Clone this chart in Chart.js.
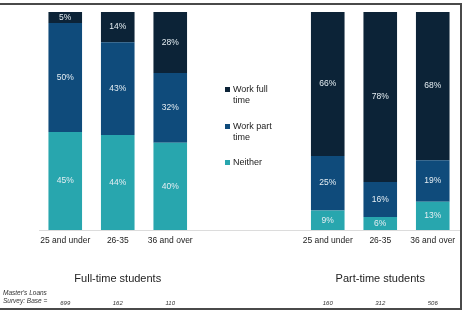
<!DOCTYPE html>
<html>
<head>
<meta charset="utf-8">
<script src="https://cdn.jsdelivr.net/npm/chart.js@4/dist/chart.umd.min.js"></script>
<style>
    body { margin: 0; background: #fff; font-family: "Liberation Sans", Arial, sans-serif; }
    #wrap { position: relative; width: 467px; height: 311px; }
    #chart { position: absolute; left: 0; top: 0; }
    .frame-top { position: absolute; left: 0; top: 3px; width: 462px; height: 2px; background: #4a4a4a; }
    .frame-right { position: absolute; left: 460px; top: 3px; width: 2px; height: 307px; background: #4a4a4a; }
    .frame-bottom { position: absolute; left: 0; top: 308px; width: 462px; height: 2px; background: #4a4a4a; }
    .legend { position: absolute; left: 225px; font-size: 9px; line-height: 11px; color: #222; }
    .legend span.sw { position: absolute; left: 0; top: 3px; width: 5px; height: 5px; }
    .legend div.txt { margin-left: 8px; }
    .base-caption { position: absolute; left: 3px; top: 289px; font-size: 6.5px; line-height: 8px; font-style: italic; color: #333; }
</style>
</head>
<body>
<div id="wrap">
    <canvas id="chart" width="467" height="311"></canvas>
    <div class="frame-top"></div>
    <div class="frame-right"></div>
    <div class="frame-bottom"></div>
    <div id="legend"></div>
    <div class="base-caption">Master's Loans<br>Survey: Base =</div>
</div>
<script>
const categories = ["25 and under", "26-35", "36 and over", "", "", "25 and under", "26-35", "36 and over"];
const neither = [45, 44, 40, null, null, 9, 6, 13];
const workPart = [50, 43, 32, null, null, 25, 16, 19];
const workFull = [5, 14, 28, null, null, 66, 78, 68];
const baseSizes = ["699", "162", "110", "", "", "160", "312", "506"];
const groupTitles = [
    { label: "Full-time students", index: 1 },
    { label: "Part-time students", index: 6 }
];

const colors = {
    full: "#0c2337",
    part: "#0f4b7b",
    neither: "#28a6ae"
};

// shares are drawn scaled to 100% (26-35 full-time adds up to 101)
const totals = categories.map((c, i) => (neither[i] || 0) + (workPart[i] || 0) + (workFull[i] || 0));
function share(values) {
    return values.map((v, i) => v == null ? null : v / totals[i] * 100);
}

const series = [
    { label: "Neither", raw: neither, color: colors.neither },
    { label: "Work part time", raw: workPart, color: colors.part },
    { label: "Work full time", raw: workFull, color: colors.full }
];

const valueLabels = {
    id: "valueLabels",
    afterDatasetsDraw(chart) {
        const ctx = chart.ctx;
        ctx.save();
        ctx.font = "8.5px 'Liberation Sans', Arial, sans-serif";
        ctx.fillStyle = "#e4edf2";
        ctx.textAlign = "center";
        ctx.textBaseline = "middle";
        chart.data.datasets.forEach((ds, d) => {
            chart.getDatasetMeta(d).data.forEach((bar, i) => {
                const v = ds.raw[i];
                if (v == null) return;
                ctx.fillText(v + "%", bar.x, (bar.y + bar.base) / 2);
            });
        });
        ctx.restore();
    }
};

const groupText = {
    id: "groupText",
    afterDraw(chart) {
        const ctx = chart.ctx;
        const x = chart.scales.x;
        ctx.save();
        ctx.textAlign = "center";
        ctx.textBaseline = "middle";
        ctx.fillStyle = "#222";
        ctx.font = "11px 'Liberation Sans', Arial, sans-serif";
        groupTitles.forEach(g => {
            ctx.fillText(g.label, x.getPixelForValue(g.index), 279);
        });
        ctx.fillStyle = "#333";
        ctx.font = "italic 6px 'Liberation Sans', Arial, sans-serif";
        baseSizes.forEach((b, i) => {
            if (b) ctx.fillText(b, x.getPixelForValue(i), 303);
        });
        ctx.restore();
    }
};

new Chart(document.getElementById("chart"), {
    type: "bar",
    data: {
        labels: categories,
        datasets: series.map(s => ({
            label: s.label,
            raw: s.raw,
            data: share(s.raw),
            backgroundColor: s.color,
            borderWidth: 0,
            barPercentage: 0.64,
            categoryPercentage: 1
        }))
    },
    options: {
        responsive: false,
        animation: false,
        events: [],
        layout: { padding: { left: 39, right: 8, top: 12, bottom: 61 } },
        plugins: {
            legend: { display: false },
            tooltip: { enabled: false }
        },
        scales: {
            x: {
                stacked: true,
                grid: { display: false, drawTicks: false },
                border: { display: true, color: "#dcdcdc", width: 1 },
                ticks: {
                    padding: 6,
                    color: "#222",
                    font: { family: "'Liberation Sans', Arial, sans-serif", size: 8.5 },
                    maxRotation: 0,
                    autoSkip: false
                },
                afterFit(axis) { axis.height = 20; }
            },
            y: {
                stacked: true,
                display: false,
                min: 0,
                max: 100
            }
        }
    },
    plugins: [valueLabels, groupText]
});

// legend sits in the gap between the two groups, top entry first
const legendEl = document.getElementById("legend");
const legendRows = [
    { lines: ["Work full", "time"], color: colors.full, top: 84 },
    { lines: ["Work part", "time"], color: colors.part, top: 121 },
    { lines: ["Neither"], color: colors.neither, top: 157 }
];
legendRows.forEach(row => {
    const item = document.createElement("div");
    item.className = "legend";
    item.style.top = row.top + "px";
    item.innerHTML = `<span class="sw" style="background:${row.color}"></span><div class="txt">${row.lines.join("<br>")}</div>`;
    legendEl.appendChild(item);
});
</script>
</body>
</html>
